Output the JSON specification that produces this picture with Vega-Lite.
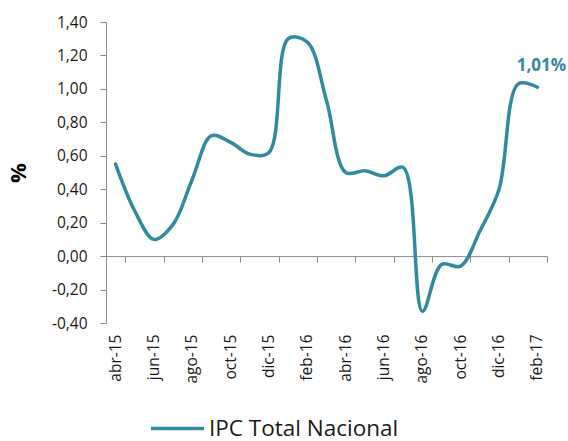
{
  "$schema": "https://vega.github.io/schema/vega-lite/v6.json",
  "autosize": {"type": "none"},
  "width": 441,
  "height": 301,
  "padding": {"left": 106, "top": 22, "right": 21, "bottom": 118},
  "background": "white",
  "config": {
    "view": {"stroke": null},
    "font": "Open Sans"
  },
  "data": {
    "values": [
      {"mes": "abr-15", "serie": "IPC Total Nacional", "valor": 0.55},
      {"mes": "may-15", "serie": "IPC Total Nacional", "valor": 0.27},
      {"mes": "jun-15", "serie": "IPC Total Nacional", "valor": 0.10},
      {"mes": "jul-15", "serie": "IPC Total Nacional", "valor": 0.19},
      {"mes": "ago-15", "serie": "IPC Total Nacional", "valor": 0.46},
      {"mes": "sep-15", "serie": "IPC Total Nacional", "valor": 0.72},
      {"mes": "oct-15", "serie": "IPC Total Nacional", "valor": 0.68},
      {"mes": "nov-15", "serie": "IPC Total Nacional", "valor": 0.61},
      {"mes": "dic-15", "serie": "IPC Total Nacional", "valor": 0.62},
      {"mes": "ene-16", "serie": "IPC Total Nacional", "valor": 1.30},
      {"mes": "feb-16", "serie": "IPC Total Nacional", "valor": 1.28},
      {"mes": "mar-16", "serie": "IPC Total Nacional", "valor": 0.93},
      {"mes": "abr-16", "serie": "IPC Total Nacional", "valor": 0.50},
      {"mes": "may-16", "serie": "IPC Total Nacional", "valor": 0.51},
      {"mes": "jun-16", "serie": "IPC Total Nacional", "valor": 0.48},
      {"mes": "jul-16", "serie": "IPC Total Nacional", "valor": 0.53},
      {"mes": "ago-16", "serie": "IPC Total Nacional", "valor": -0.33},
      {"mes": "sep-16", "serie": "IPC Total Nacional", "valor": -0.05},
      {"mes": "oct-16", "serie": "IPC Total Nacional", "valor": -0.06},
      {"mes": "nov-16", "serie": "IPC Total Nacional", "valor": 0.15},
      {"mes": "dic-16", "serie": "IPC Total Nacional", "valor": 0.40},
      {"mes": "ene-17", "serie": "IPC Total Nacional", "valor": 1.03},
      {"mes": "feb-17", "serie": "IPC Total Nacional", "valor": 1.01}
    ]
  },
  "resolve": {"axis": {"x": "independent"}},
  "encoding": {
    "y": {
      "field": "valor", "type": "quantitative",
      "scale": {"domain": [-0.4, 1.4], "nice": false, "zero": false},
      "axis": {
        "title": "%", "titleFontSize": 22, "titleFontWeight": "bold", "titleColor": "#000000",
        "titlePadding": 21,
        "values": [-0.4, -0.2, 0, 0.2, 0.4, 0.6, 0.8, 1, 1.2, 1.4],
        "tickCount": 10,
        "labelOverlap": false,
        "labelExpr": "(datum.value < -0.001 ? '-' : '') + replace(format(abs(datum.value), '.2f'), '.', ',')",
        "grid": false, "domainColor": "#8c8c8c", "tickColor": "#8c8c8c", "tickSize": 6,
        "labelFontSize": 15.5, "labelColor": "#1a1a1a", "labelPadding": 13
      }
    }
  },
  "layer": [
    {
      "mark": {"type": "line", "interpolate": "catmull-rom", "strokeWidth": 3.5, "strokeCap": "round"},
      "encoding": {
        "x": {
          "field": "mes", "type": "ordinal", "sort": null, "bandPosition": 0.5,
          "scale": {"type": "band", "paddingInner": 0, "paddingOuter": 0},
          "axis": {
            "orient": "bottom",
            "title": null,
            "values": ["abr-15","jun-15","ago-15","oct-15","dic-15","feb-16","abr-16","jun-16","ago-16","oct-16","dic-16","feb-17"],
            "domain": false, "ticks": false,
            "labelAngle": -90, "labelFontSize": 15.5, "labelColor": "#1a1a1a",
            "labelPadding": 11, "labelFont": "Open Sans"
          }
        },
        "color": {
          "field": "serie", "type": "nominal",
          "scale": {"range": ["#3389A0"]},
          "legend": {
            "title": null, "orient": "none", "legendX": 43, "legendY": 378,
            "symbolType": "stroke", "symbolSize": 2809, "symbolStrokeWidth": 3.5,
            "labelFontSize": 22.5, "labelColor": "#1a1a1a", "labelOffset": 3, "padding": 0,
            "labelLimit": 0
          }
        }
      }
    },
    {
      "mark": {"type": "rule", "strokeWidth": 0, "opacity": 0},
      "encoding": {
        "x": {
          "field": "mes", "type": "ordinal", "sort": null,
          "axis": {
            "orient": "bottom",
            "title": null, "labels": false, "offset": -66.9,
            "values": ["abr-15","jun-15","ago-15","oct-15","dic-15","feb-16","abr-16","jun-16","ago-16","oct-16","dic-16","feb-17"],
            "tickBand": "extent", "tickSize": 6, "tickColor": "#8c8c8c", "domainColor": "#8c8c8c"
          }
        }
      }
    },
    {
      "transform": [{"filter": "datum.mes == 'feb-17'"}],
      "mark": {"type": "text", "fontSize": 17, "fontWeight": "bold", "color": "#3389A0", "dy": -21, "dx": 4, "font": "Open Sans"},
      "encoding": {
        "x": {"field": "mes", "type": "ordinal", "sort": null, "bandPosition": 0.5, "axis": null},
        "text": {"value": "1,01%"}
      }
    }
  ]
}
